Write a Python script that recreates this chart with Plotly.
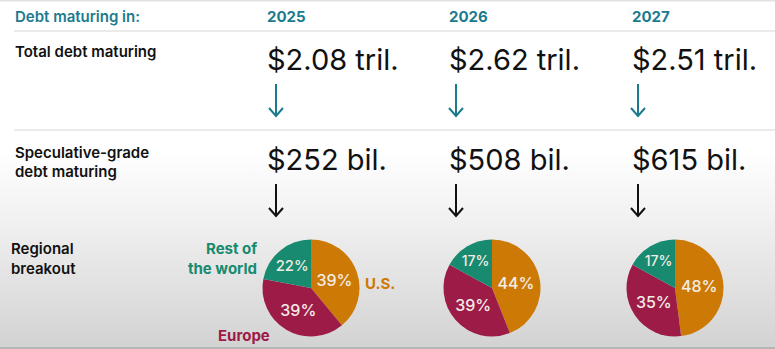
import plotly.graph_objects as go

# ---- data -------------------------------------------------------------
years = ["2025", "2026", "2027"]
total_debt_tril = [2.08, 2.62, 2.51]
spec_grade_bil = [252, 508, 615]
regions = ["U.S.", "Europe", "Rest of the world"]
us_share = [39, 44, 48]
europe_share = [39, 39, 35]
rest_share = [22, 17, 17]

# ---- layout constants ---------------------------------------------------
W, H = 775, 349
FONT = "Inter"
TEAL = "#1b7b8e"
C_US = "#cc7a05"
C_EU = "#9d1b47"
C_ROW = "#178a6f"
col_x = [265, 447, 630]          # left edge of each year column
arrow_dx = [11, 9, 8]            # arrow offset from column edge
pie_cx = [311, 492, 675]
pie_cy = 288
pie_r = 48.5

fig = go.Figure()

# background: white fading to light grey toward the bottom
fig.add_trace(go.Scatter(
    x=[0, W, W, 0, 0], y=[0, 0, H, H, 0],
    mode="lines", line=dict(width=0), fill="toself",
    fillgradient=dict(type="vertical", start=150, stop=346,
                      colorscale=[[0, "#ffffff"], [0.35, "#f1f1f1"], [1, "#d3d3d3"]]),
    hoverinfo="skip", showlegend=False,
))

annotations = []
shapes = []


def txt(x, y, s, size, color="#111111", weight=400, anchor="left"):
    annotations.append(dict(
        x=x, y=y, xref="x", yref="y", text=s, showarrow=False,
        xanchor=anchor, yanchor="middle",
        font=dict(family=FONT, size=size, color=color, weight=weight),
    ))


def down_arrow(x, y0, y1, color):
    shapes.append(dict(type="line", x0=x, x1=x, y0=y0, y1=y1, xref="x", yref="y",
                       line=dict(color=color, width=2)))
    shapes.append(dict(type="path", xref="x", yref="y",
                       path=f"M {x-7},{y1-8} L {x},{y1} L {x+7},{y1-8}",
                       line=dict(color=color, width=2)))


# header row
txt(13, 16, "Debt maturing in:", 15, TEAL, 600)
for i, yr in enumerate(years):
    txt(col_x[i], 16, yr, 15, TEAL, 700)

# separators
for yy in (31, 130):
    shapes.append(dict(type="line", x0=14, x1=W, y0=yy, y1=yy, xref="x", yref="y",
                       line=dict(color="#e4e4e4", width=1.5)))

# row labels
txt(13, 51, "Total debt maturing", 15, "#111111", 600)
txt(13, 152, "Speculative-grade", 15, "#111111", 600)
txt(13, 171, "debt maturing", 15, "#111111", 600)
txt(9, 248, "Regional", 15, "#111111", 600)
txt(9, 268, "breakout", 15, "#111111", 600)

# values and arrows
for i in range(len(years)):
    txt(col_x[i], 59, f"${total_debt_tril[i]:.2f} tril.", 29)
    txt(col_x[i], 159, f"${spec_grade_bil[i]} bil.", 29)
    down_arrow(col_x[i] + arrow_dx[i], 84, 116, TEAL)
    down_arrow(col_x[i] + arrow_dx[i], 184, 216, "#111111")

# regional pies
for i in range(len(years)):
    dx0 = (pie_cx[i] - pie_r) / W
    dx1 = (pie_cx[i] + pie_r) / W
    dy0 = 1 - (pie_cy + pie_r) / H
    dy1 = 1 - (pie_cy - pie_r) / H
    fig.add_trace(go.Pie(
        labels=regions,
        values=[us_share[i], europe_share[i], rest_share[i]],
        sort=False, direction="clockwise", rotation=0,
        marker=dict(colors=[C_US, C_EU, C_ROW], line=dict(width=0)),
        texttemplate="%{value}%", textposition="inside",
        insidetextorientation="horizontal",
        textfont=dict(family=FONT, size=16, color="#f3ece6", weight=500),
        domain=dict(x=[dx0, dx1], y=[dy0, dy1]),
        hoverinfo="label+percent", showlegend=False,
    ))

# region labels beside the first pie
txt(259, 248, "Rest of", 15, C_ROW, 700, anchor="right")
txt(259, 268, "the world", 15, C_ROW, 700, anchor="right")
txt(363, 283, "U.S.", 15, C_US, 700)
txt(216, 335, "Europe", 15, C_EU, 700)

# frame edges
shapes.append(dict(type="line", x0=0, x1=W, y0=348, y1=348, xref="x", yref="y",
                   line=dict(color="#b5b5b5", width=2)))
shapes.append(dict(type="line", x0=0, x1=W, y0=0.5, y1=0.5, xref="x", yref="y",
                   line=dict(color="#e2e2e2", width=2)))

fig.update_layout(
    width=W, height=H,
    margin=dict(l=0, r=0, t=0, b=0),
    paper_bgcolor="#ffffff", plot_bgcolor="#ffffff",
    xaxis=dict(range=[0, W], visible=False, fixedrange=True),
    yaxis=dict(range=[H, 0], visible=False, fixedrange=True),
    annotations=annotations,
    shapes=shapes,
)

fig.write_html("out.html")
